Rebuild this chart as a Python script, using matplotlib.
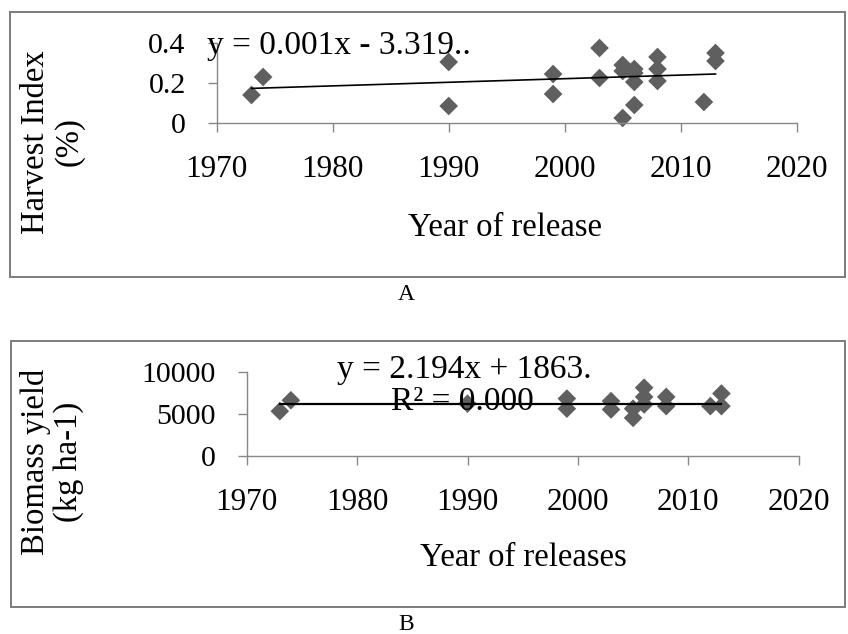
import matplotlib
matplotlib.use("Agg")
import matplotlib.pyplot as plt
from matplotlib.patches import Rectangle

plt.rcParams['font.family'] = ['Liberation Serif', 'DejaVu Serif']

# ---------------- Data ----------------
# Panel A: Harvest index vs year of release
years_a = [1973, 1974, 1990, 1990, 1999, 1999, 2003, 2003, 2005, 2005, 2005,
           2006, 2006, 2006, 2006, 2008, 2008, 2008, 2012, 2013, 2013]
hi_a = [0.14, 0.23, 0.305, 0.085, 0.245, 0.145, 0.375, 0.225, 0.29, 0.26, 0.025,
        0.27, 0.25, 0.205, 0.09, 0.33, 0.27, 0.21, 0.105, 0.35, 0.31]
trend_years_a = [1973, 2013]
trend_vals_a = [0.173, 0.245]

# Panel B: Biomass yield vs year of release
years_b = [1973, 1974, 1990, 1999, 1999, 2003, 2003, 2005, 2005,
           2006, 2006, 2006, 2008, 2008, 2012, 2013, 2013]
bio_b = [5300, 6600, 6200, 6800, 5600, 6500, 5500, 5600, 4500,
         8100, 7000, 6100, 7000, 5900, 5900, 7400, 5900]
trend_years_b = [1973, 2013]
trend_vals_b = [6200, 6200]

x_ticks = [1970, 1980, 1990, 2000, 2010, 2020]
y_ticks_a = [0, 0.2, 0.4]
y_ticks_a_labels = ['0', '0.2', '0.4']
y_ticks_b = [0, 5000, 10000]
y_ticks_b_labels = ['0', '5000', '10000']

eq_a = "y = 0.001x - 3.319.."
eq_b = "y = 2.194x + 1863."
r2_b = "R\u00b2 = 0.000"

# ---------------- Figure ----------------
W, H = 848, 634
fig = plt.figure(figsize=(W / 100, H / 100), dpi=100)
fig.patch.set_facecolor('white')

def fx(px):
    return px / W

def fy(py):
    return (H - py) / H

MARK = '#5f5f5f'
AXC = '#888888'
FS_XTICK = 22.5
FS_YTICK = 21.5
FS_TITLE = 23.5
FS_EQ = 24
px2pt = 0.72

# Frames
for (x0, y0, x1, y1) in [(10, 12, 845, 277), (11, 341, 845, 607)]:
    fig.patches.append(Rectangle((fx(x0), fy(y1)), fx(x1) - fx(x0), fy(y0) - fy(y1),
                                 transform=fig.transFigure, fill=False,
                                 edgecolor='#7f7f7f', linewidth=2 * px2pt))

def style_axes(ax):
    for s in ['top', 'right']:
        ax.spines[s].set_visible(False)
    for s in ['left', 'bottom']:
        ax.spines[s].set_color(AXC)
        ax.spines[s].set_linewidth(1.0)
    ax.tick_params(axis='both', direction='out', length=9 * px2pt, width=1.0,
                   color=AXC)
    ax.tick_params(axis='x', pad=23 * px2pt, labelsize=FS_XTICK)
    ax.tick_params(axis='y', pad=22 * px2pt, labelsize=FS_YTICK)
    ax.set_facecolor('none')
    ax.set_xlim(1970, 2020)
    ax.set_xticks(x_ticks)
    ax.set_xticklabels([str(t) for t in x_ticks])

# ---- Panel A ----
axA = fig.add_axes([fx(216.7), fy(123), fx(796.7) - fx(216.7), fy(43) - fy(123)])
style_axes(axA)
axA.set_ylim(0, 0.4)
axA.set_yticks(y_ticks_a)
axA.set_yticklabels(y_ticks_a_labels)
axA.plot(trend_years_a, trend_vals_a, color='black', lw=1.2, zorder=3)
axA.scatter(years_a, hi_a, marker='D', s=(9.5) ** 2, color=MARK, edgecolors='none',
            zorder=2, clip_on=False)
fig.text(fx(207), fy(46), eq_a, fontsize=FS_EQ, ha='left', va='center')
fig.text(fx(505), fy(228), "Year of release", fontsize=FS_TITLE, ha='center', va='center')
fig.text(fx(36), fy(142), "Harvest Index", fontsize=FS_TITLE, ha='center', va='center',
         rotation=90)
fig.text(fx(69), fy(142), "(%)", fontsize=FS_TITLE, ha='center', va='center',
         rotation=90)
fig.text(fx(406), fy(294), "A", fontsize=17, ha='center', va='center')

# ---- Panel B ----
axB = fig.add_axes([fx(246.7), fy(455.7), fx(798.7) - fx(246.7), fy(371.7) - fy(455.7)])
style_axes(axB)
axB.set_ylim(0, 10000)
axB.set_yticks(y_ticks_b)
axB.set_yticklabels(y_ticks_b_labels)
axB.scatter(years_b, bio_b, marker='D', s=(9.5) ** 2, color=MARK, edgecolors='none',
            zorder=2, clip_on=False)
axB.plot(trend_years_b, trend_vals_b, color='black', lw=1.6, zorder=3)
fig.text(fx(464), fy(370), eq_b, fontsize=FS_EQ, ha='center', va='center')
fig.text(fx(462), fy(402), r2_b, fontsize=FS_EQ, ha='center', va='center', zorder=5)
fig.text(fx(523), fy(558), "Year of releases", fontsize=FS_TITLE, ha='center', va='center')
fig.text(fx(36), fy(462), "Biomass yield", fontsize=FS_TITLE, ha='center', va='center',
         rotation=90)
fig.text(fx(69), fy(462), "(kg ha-1)", fontsize=FS_TITLE, ha='center', va='center',
         rotation=90)
fig.text(fx(406), fy(624), "B", fontsize=17, ha='center', va='center')

fig.savefig("out.png", dpi=100)
